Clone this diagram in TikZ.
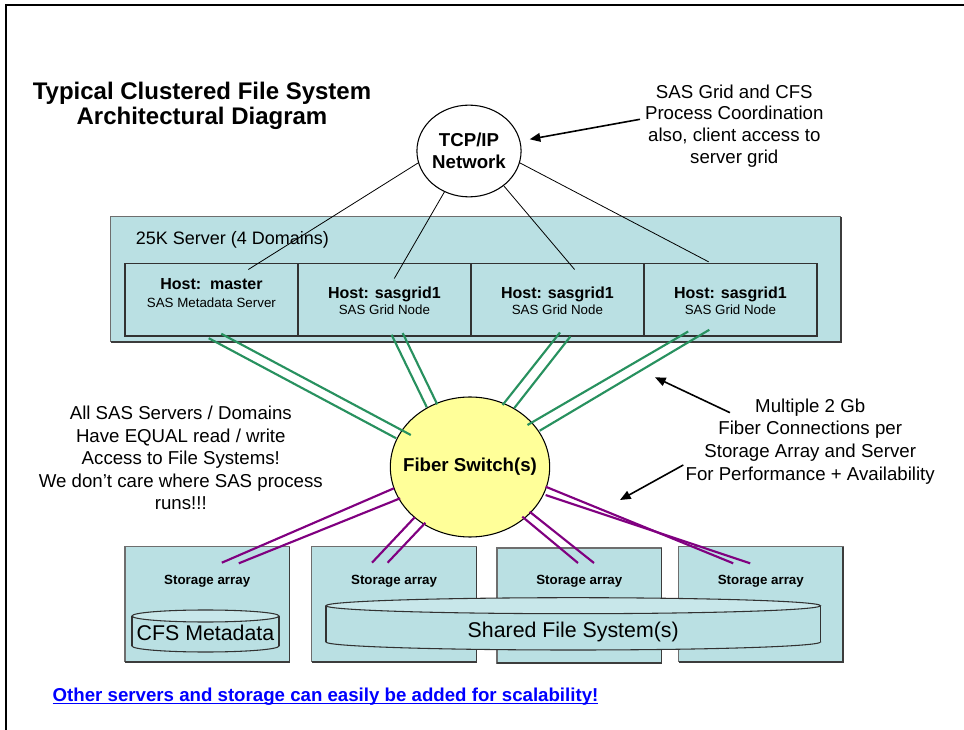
\documentclass[tikz,border=0pt]{standalone}
\usepackage{fontspec}
\setmainfont{Liberation Sans}
\usetikzlibrary{arrows.meta,calc,shapes.geometric}
\definecolor{boxfill}{RGB}{186,224,227}
\definecolor{toptone}{RGB}{200,231,234}
\definecolor{boxedge}{RGB}{110,110,110}
\definecolor{shadowedge}{RGB}{60,60,60}
\definecolor{hostedge}{RGB}{50,50,50}
\definecolor{fibergreen}{RGB}{40,145,95}
\definecolor{fiberpurple}{RGB}{128,0,128}
\definecolor{switchyellow}{RGB}{255,255,153}
\definecolor{linkblue}{RGB}{0,0,255}
\begin{document}
\begin{tikzpicture}[x=0.75pt,y=-0.75pt,
  every node/.style={inner sep=0pt,outer sep=0pt},
  serverbox/.style={draw=boxedge,fill=boxfill,line width=0.9pt,minimum width=547.65pt,minimum height=93.75pt},
  hostbox/.style={draw=hostedge,fill=boxfill,line width=0.9pt,minimum width=129.75pt,minimum height=54.5pt},
  storebox/.style={draw=boxedge,fill=boxfill,line width=0.9pt,minimum width=123.45pt,minimum height=86.25pt},
  shadowline/.style={draw=shadowedge,line width=1.3pt},
  hosttitle/.style={anchor=base,font=\fontsize{12}{14}\selectfont\bfseries},
  hostsub/.style={anchor=base,font=\fontsize{10}{12}\selectfont},
  storelabel/.style={anchor=base,font=\fontsize{10}{12}\selectfont\bfseries},
  cyllabel/.style={anchor=base,font=\fontsize{16}{19}\selectfont},
  cylbody/.style={fill=boxfill,draw=none},
  cyledge/.style={draw=hostedge,line width=0.8pt},
  netline/.style={draw=black,line width=0.6pt},
  fibre/.style={draw=fibergreen,line width=1.6pt},
  fibrestore/.style={draw=fiberpurple,line width=1.6pt},
  pointer/.style={draw=black,line width=1.2pt,-{Triangle[length=8pt,width=6.5pt]}},
]
\useasboundingbox (0,0) rectangle (964,730);
% frame
\draw[line width=1.5pt] (5.5,730) -- (5.5,5.5) -- (964,5.5);

% title
\node[align=center,font=\fontsize{18}{18.75}\selectfont\bfseries] (title) at (202,106)
  {Typical Clustered File System\\Architectural Diagram};

% server box and hosts
\node[serverbox] (server) at (475.6,279.2) {};
\draw[shadowline] (server.south west) -- (server.south east) -- (server.north east);
\node[anchor=base west,font=\fontsize{13.5}{16}\selectfont] (serverlbl) at (135.9,244.4) {25K Server (4 Domains)};
\node[hostbox] (h1) at (211.4,299.65) {};
\node[hostbox] (h2) at (384.4,299.65) {};
\node[hostbox] (h3) at (557.4,299.65) {};
\node[hostbox] (h4) at (730.4,299.65) {};
\node[hosttitle] (h1t) at (211.4,289.7) {Host:\ \ master};
\node[hostsub] (h1s) at (211.4,307.5) {SAS Metadata Server};
\node[hosttitle] (h2t) at (384.4,298.4) {Host: sasgrid1};
\node[hostsub] (h2s) at (384.4,314.8) {SAS Grid Node};
\node[hosttitle] (h3t) at (557.4,298.4) {Host: sasgrid1};
\node[hostsub] (h3s) at (557.4,314.8) {SAS Grid Node};
\node[hosttitle] (h4t) at (730.4,298.4) {Host: sasgrid1};
\node[hostsub] (h4s) at (730.4,314.8) {SAS Grid Node};

% TCP/IP network
\node[ellipse,draw=black,fill=white,line width=0.8pt,minimum width=77.5pt,minimum height=68.8pt,
  align=center,font=\fontsize{14}{16.5}\selectfont\bfseries] (tcp) at (469,151) {TCP/IP\\Network};
\draw[netline] (tcp.193) -- ($(h1.north)+(36.9,6.2)$);
\draw[netline] (tcp.239) -- ($(h2.north)+(9.9,15.2)$);
\draw[netline] (tcp.315) -- ($(h3.north)+(17.2,6.2)$);
\draw[netline] (tcp.347) -- ($(h4.north)+(-21.8,-1.5)$);

% annotation top right
\node[align=center,font=\fontsize{14}{16.25}\selectfont] (ann) at (734.3,126) {SAS Grid and CFS\\Process Coordination\\also, client access to\\server grid};
\coordinate (annfoot) at (640,119.3);
\draw[pointer] (annfoot) -- ($(tcp.east)+(8.6,-11.7)$);

% storage boxes
\node[storebox] (s1) at (207.2,604.2) {};
\node[storebox] (s2) at (394.1,604.2) {};
\node[storebox] (s3) at (579.3,605.5) {};
\node[storebox] (s4) at (760.8,604.2) {};
\foreach \s in {s1,s2,s3,s4} {
  \draw[shadowline] (\s.south west) -- (\s.south east) -- (\s.north east);
}
\node[storelabel] (s1l) at (207.2,584.8) {Storage array};
\node[storelabel] (s2l) at (394.1,584.8) {Storage array};
\node[storelabel] (s3l) at (579.3,584.8) {Storage array};
\node[storelabel] (s4l) at (760.8,584.8) {Storage array};

% CFS metadata cylinder
\draw[cyledge,fill=boxfill] (205.5,646) ellipse [x radius=73.5,y radius=6];
\path[cylbody] (132,616) rectangle (279,646);
\draw[cyledge] (132,616) -- (132,646) (279,616) -- (279,646);
\draw[cyledge,fill=toptone] (205.5,616) ellipse [x radius=73.5,y radius=6];
\node[cyllabel] (cfs) at (205.5,640.9) {CFS Metadata};

% shared file system cylinder
\draw[cyledge,fill=boxfill] (573.2,642) ellipse [x radius=247.2,y radius=8];
\path[cylbody] (326,605.7) rectangle (820.4,642);
\draw[cyledge] (326,605.7) -- (326,642) (820.4,605.7) -- (820.4,642);
\draw[cyledge,fill=toptone] (573.2,605.7) ellipse [x radius=247.2,y radius=8];
\node[cyllabel] (sfs) at (573.2,637.6) {Shared File System(s)};

% fiber switch
\node[ellipse,draw=black,fill=switchyellow,line width=0.8pt,minimum width=119.5pt,minimum height=105pt,
  label={[font=\fontsize{14}{16}\selectfont\bfseries]center:Fiber Switch(s)}] (sw) at (470,467) {};

% server-to-switch fibres
\draw[fibre] ($(h1.south)+(-2.7,2.2)$) -- ($(sw)+(-73.8,-28.7)$);
\draw[fibre] ($(h1.south)+(9.9,-2.2)$) -- ($(sw)+(-59.2,-32)$);
\draw[fibre] ($(h2.south)+(7.2,-1.2)$) -- ($(sw)+(-43.2,-59.7)$);
\draw[fibre] ($(h2.south)+(18.3,-2.9)$) -- ($(sw)+(-32.8,-62.7)$);
\draw[fibre] ($(h3.south)+(2.6,-3.5)$) -- ($(sw)+(32.6,-62)$);
\draw[fibre] ($(h3.south)+(13,0.5)$) -- ($(sw)+(44.1,-58.7)$);
\draw[fibre] ($(h4.south)+(-42.2,-4.5)$) -- ($(sw)+(57.5,-42)$);
\draw[fibre] ($(h4.south)+(-21.1,-6.2)$) -- ($(sw)+(69.7,-36.3)$);

% switch-to-storage fibres
\draw[fibrestore] ($(sw)+(-76.1,21.3)$) -- ($(s1.north)+(14.6,16)$);
\draw[fibrestore] ($(sw)+(-69.8,31.3)$) -- ($(s1.north)+(31.6,16.6)$);
\draw[fibrestore] ($(sw)+(-55.3,50.3)$) -- ($(s2.north)+(-22.1,16)$);
\draw[fibrestore] ($(sw)+(-44.6,55.7)$) -- ($(s2.north)+(-6.5,16)$);
\draw[fibrestore] ($(sw)+(52.3,49.7)$) -- ($(s3.north)+(-1.3,15)$);
\draw[fibrestore] ($(sw)+(59.6,44.7)$) -- ($(s3.north)+(14.7,15)$);
\draw[fibrestore] ($(sw)+(75.6,19.7)$) -- ($(s4.north)+(-27.6,16.6)$);
\draw[fibrestore] ($(sw)+(75.6,28)$) -- ($(s4.north)+(-10.6,16.6)$);

% left note
\node[align=center,font=\fontsize{14}{16.95}\selectfont] (leftnote) at (180.8,458)
  {All SAS Servers / Domains\\Have EQUAL read / write\\Access to File Systems!\\We don’t care where SAS process\\runs!!!};

% right note with pointers
\node[align=center,font=\fontsize{14}{17.1}\selectfont] (rightnote) at (810.2,441.5)
  {Multiple 2 Gb\\Fiber Connections per\\Storage Array and Server\\For Performance + Availability};
\coordinate (p1foot) at (730,412.7);
\coordinate (p1head) at (655,377.3);
\coordinate (p2foot) at (683.3,465);
\coordinate (p2head) at (620,500);
\draw[pointer] (p1foot) -- (p1head);
\draw[pointer] (p2foot) -- (p2head);

% link
\node[anchor=base west,text=linkblue,font=\fontsize{14}{17}\selectfont\bfseries] (link) at (52.7,701)
  {Other servers and storage can easily be added for scalability!};
\draw[linkblue,line width=1.1pt] ($(link.base west)+(0,2.6)$) -- ($(link.base east)+(0,2.6)$);
\end{tikzpicture}
\end{document}
